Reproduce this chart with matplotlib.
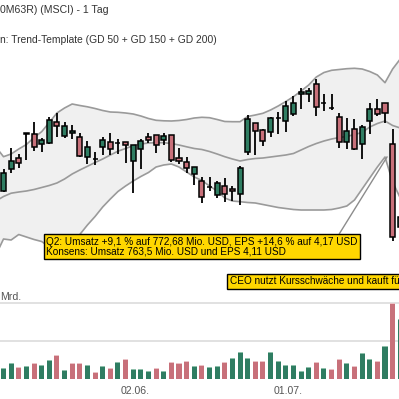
import numpy as np
import matplotlib.pyplot as plt
from matplotlib.patches import Rectangle

plt.rcParams['font.family'] = ['Liberation Sans', 'DejaVu Sans']

# Tageskerzen (Index 0 = erster sichtbarer Handelstag), Kursskala wie im Chart
open_ = [209.3, 230.7, 241.7, 266.3, 265.7, 255.7, 257.5, 277.7, 263.8, 266.7,
         262.7, 243.5, 240.7, 253.3, 257.7, 257.3, 257.7, 239.3, 250.7, 262.7,
         264.7, 259.7, 264.7, 241.7, 237.7, 226.5, 219.0, 212.7, 205.0, 214.0,
         211.0, 205.7, 247.7, 277.0, 270.0, 267.8, 282.3, 278.7, 285.7, 305.7,
         305.7, 316.0, 296.7, 292.3, 282.7, 257.7, 270.7, 255.8, 279.5, 291.5,
         296.7, 256.0, 173.3]
high = [230.7, 251.7, 246.0, 267.3, 277.7, 262.0, 282.7, 286.7, 278.0, 275.5,
        267.0, 259.3, 248.3, 263.3, 266.7, 260.8, 257.7, 255.0, 260.8, 266.7,
        264.7, 266.7, 264.7, 251.7, 242.7, 233.5, 222.7, 223.3, 219.0, 221.7,
        214.5, 234.0, 285.0, 277.3, 270.7, 283.3, 288.3, 298.8, 303.7, 311.7,
        312.5, 321.0, 305.8, 305.8, 287.3, 282.5, 281.2, 274.7, 297.0, 300.7,
        296.7, 271.0, 188.0]
low = [208.3, 226.7, 231.7, 240.0, 249.5, 247.7, 256.3, 263.0, 262.0, 260.7,
       243.0, 236.3, 235.3, 245.0, 245.0, 245.8, 236.7, 206.7, 230.8, 257.2,
       246.7, 255.3, 238.3, 235.7, 226.7, 215.0, 196.7, 209.5, 202.3, 198.3,
       199.0, 195.4, 245.3, 245.0, 254.0, 263.0, 265.8, 268.0, 284.0, 290.7,
       298.3, 283.8, 288.8, 290.0, 252.0, 251.5, 250.3, 240.7, 265.8, 284.0,
       277.2, 159.3, 170.0]
close = [226.7, 239.0, 236.7, 266.7, 253.3, 260.0, 279.7, 273.8, 274.0, 269.5,
         244.5, 252.7, 240.7, 259.8, 250.7, 257.3, 254.7, 255.0, 258.8, 260.3,
         254.7, 263.7, 239.7, 239.5, 231.7, 232.7, 203.3, 212.7, 216.7, 205.7,
         209.0, 232.3, 281.0, 269.0, 259.0, 281.7, 282.3, 293.7, 297.0, 308.0,
         309.0, 293.5, 296.7, 292.3, 257.7, 268.8, 251.5, 272.7, 290.7, 286.2,
         286.7, 162.7, 183.3]

# Umsatz in Mrd.
volume = [0.140, 0.215, 0.154, 0.175, 0.210, 0.184, 0.250, 0.316, 0.118, 0.207,
          0.207, 0.180, 0.092, 0.175, 0.145, 0.220, 0.260, 0.128, 0.136, 0.109,
          0.145, 0.105, 0.220, 0.207, 0.237, 0.171, 0.184, 0.154, 0.171, 0.224,
          0.272, 0.355, 0.272, 0.233, 0.237, 0.355, 0.237, 0.184, 0.184, 0.109,
          0.154, 0.224, 0.141, 0.132, 0.260, 0.207, 0.167, 0.342, 0.263, 0.237,
          0.434, 1.004, 0.786]

# Bollinger-Band, beginnt einen Tag vor der ersten Kerze
band_upper = [253.0, 243.3, 246.0, 251.0, 255.5, 262.5, 268.3, 277.5, 287.0, 292.0,
              296.0, 294.5, 293.2, 291.5, 289.5, 288.0, 287.7, 287.0, 286.0, 284.0,
              281.5, 279.7, 279.2, 279.0, 279.5, 280.5, 282.0, 282.7, 282.3, 280.5,
              278.5, 278.3, 278.3, 283.5, 285.0, 286.7, 290.0, 294.0, 298.5, 303.3,
              309.0, 315.0, 323.0, 327.5, 329.7, 330.5, 331.3, 331.7, 331.0, 328.5,
              325.0, 317.3, 331.0, 341.0]
band_mid = [199.0, 203.5, 206.8, 208.0, 209.0, 210.5, 212.5, 214.5, 217.0, 221.0,
            226.0, 230.0, 233.7, 237.5, 241.0, 245.0, 248.8, 251.5, 254.3, 256.0,
            257.0, 257.3, 257.3, 256.5, 255.0, 253.2, 251.5, 250.5, 248.5, 246.0,
            243.3, 241.0, 239.0, 240.5, 241.5, 242.0, 243.0, 244.0, 245.0, 246.5,
            250.0, 253.5, 256.5, 259.0, 261.0, 262.5, 263.5, 265.5, 267.5, 273.0,
            276.5, 279.0, 274.5, 272.0]
band_lower = [145.0, 161.0, 160.0, 165.5, 163.0, 160.5, 158.5, 153.0, 150.0, 151.0,
              156.0, 165.5, 175.0, 183.5, 193.0, 201.0, 208.5, 214.0, 219.0, 223.5,
              227.5, 233.0, 235.0, 236.0, 233.0, 228.0, 223.0, 219.5, 214.0, 209.0,
              202.0, 199.0, 198.3, 197.5, 197.0, 195.5, 194.0, 192.5, 191.5, 190.5,
              190.0, 190.0, 190.0, 190.0, 190.5, 192.0, 194.0, 200.0, 211.0, 222.0,
              233.0, 243.0, 218.0, 202.0]

date_ticks = [17, 37]
date_labels = ['02.06.', '01.07.']

title_1 = '0M63R) (MSCI) - 1 Tag'
title_2 = 'n: Trend-Template (GD 50 + GD 150 + GD 200)'
note_q2 = ['Q2: Umsatz +9,1 % auf 772,68 Mio. USD, EPS +14,6 % auf 4,17 USD',
           'Konsens: Umsatz 763,5 Mio. USD und EPS 4,11 USD']
note_ceo = 'CEO nutzt Kursschwäche und kauft für'

GREEN = '#2f7d62'
RED = '#c8707a'
GREEN_CAP = '#8fc0ab'
RED_CAP = '#ebc3c7'
W, H = 399, 399


def px(x, y):
    # Pixelposition -> Figurenkoordinaten
    return x / W, 1 - y / H


x = np.arange(len(close))
xb = np.arange(-1, len(close))
up = np.array(close) >= np.array(open_)
cols = np.where(up, GREEN, RED)
vol_up = np.diff(np.r_[close[0], close]) >= 0
vcols = np.where(vol_up, GREEN, RED)
vcaps = np.where(vol_up, GREEN_CAP, RED_CAP)

fig = plt.figure(figsize=(W / 100, H / 100), dpi=100)
xlim = (-3.5 / 7.63, (W - 3.5) / 7.63)

ax = fig.add_axes([0, 0, 1, 1])
ax.set_xlim(*xlim)
ax.set_ylim(1, 400)
ax.axis('off')

ax.fill_between(xb, band_lower, band_upper, color='#f0f0f0', lw=0, zorder=1)
for b in (band_upper, band_mid, band_lower):
    ax.plot(xb, b, color='#9a9a9a', lw=1.2, zorder=2)

ax.vlines(x, low, high, color='black', lw=1.3, zorder=3)
body_lo = np.minimum(open_, close)
body_h = np.abs(np.array(close) - np.array(open_))
ax.bar(x, body_h, bottom=body_lo, width=0.66, color=cols,
       edgecolor='black', linewidth=1.1, zorder=4)

# Volumen
axv = fig.add_axes([0, 20 / H, 1, 91.2 / H])
axv.set_xlim(*xlim)
axv.set_ylim(0, 1.2)
axv.axis('off')
for g in (0.5, 1.0):
    axv.axhline(g, color='#dcdcdc', lw=1.2, zorder=0)
vol = np.array(volume)
axv.bar(x, vol, width=0.66, color=vcols, lw=0, zorder=2)
axv.bar(x, 0.014, bottom=vol - 0.014, width=0.66, color=vcaps, lw=0, zorder=3)

# Beschriftungen
fig.text(*px(0, 13), title_1, fontsize=7.6, color='#333333', va='baseline')
fig.text(*px(0, 43), title_2, fontsize=7.35, color='#333333', va='baseline')
fig.text(*px(0, 300), 'Mrd.', fontsize=7.6, color='#555555', va='baseline')
for t, lab in zip(date_ticks, date_labels):
    xf = (t - xlim[0]) / (xlim[1] - xlim[0])
    fig.text(xf + 2 / W, 1 - 394 / H, lab, fontsize=7.6, color='#555555',
             ha='center', va='baseline')

# Hinweisboxen
fig.add_artist(plt.Line2D([339.5 / W, 387 / W], [1 - 233.5 / H, 1 - 157 / H],
                          color='#8c8c8c', lw=1.0, zorder=5))
fig.add_artist(Rectangle(px(43.5, 258.5), 316 / W, 25 / H, facecolor='#ffd700',
                         edgecolor='black', lw=1.0, zorder=6))
fig.text(*px(46, 244.5), note_q2[0], fontsize=7.2, color='black',
         va='baseline', zorder=7)
fig.text(*px(46, 254.5), note_q2[1], fontsize=7.2, color='black',
         va='baseline', zorder=7)
fig.add_artist(Rectangle(px(226.5, 288.5), 200 / W, 14.5 / H, facecolor='#ffd700',
                         edgecolor='black', lw=1.0, zorder=6))
fig.text(*px(229.5, 284.3), note_ceo, fontsize=7.2, color='black',
         va='baseline', zorder=7)

fig.savefig('out.png', dpi=100)
